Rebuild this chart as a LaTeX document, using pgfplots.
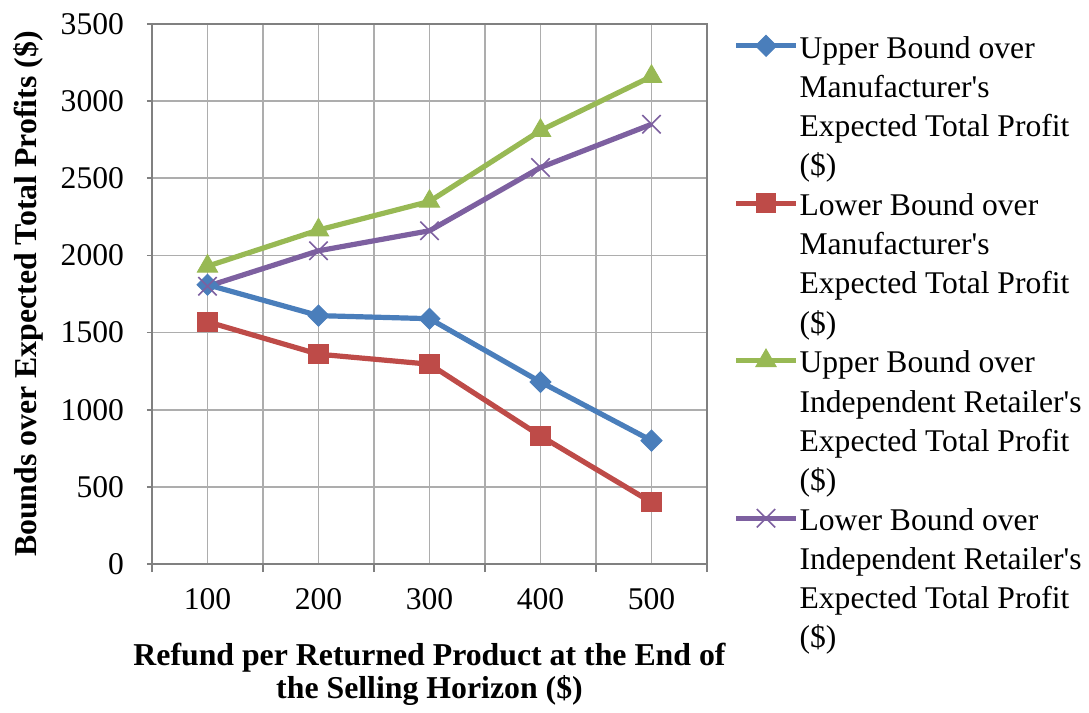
\documentclass[border=0pt]{standalone}
\usepackage{pgfplots}
\pgfplotsset{compat=1.18}
\usepackage{fontspec}
\setmainfont{Liberation Serif}
\definecolor{cblue}{HTML}{4A7EBB}
\definecolor{cred}{HTML}{BE4B48}
\definecolor{cgreen}{HTML}{98B954}
\definecolor{cpurple}{HTML}{7D60A0}
\newcommand\lentry[1]{\begin{tabular}[t]{@{}l@{}}#1\end{tabular}}
\newcommand\q{\textquotesingle}
\begin{document}
\begin{tikzpicture}
\begin{axis}[name=ax,
  width=277.5pt, height=270pt, scale only axis,
  xmin=0.5, xmax=5.5, ymin=0, ymax=3500,
  xtick={1,2,3,4,5}, xticklabels={100,200,300,400,500},
  minor xtick={0.5,1.5,2.5,3.5,4.5,5.5},
  ytick={0,500,...,3500},
  xmajorgrids, xminorgrids, ymajorgrids,
  major grid style={draw=black!32, line width=0.8pt},
  minor grid style={draw=black!32, line width=0.8pt},
  axis line style={draw=black!50, line width=0.9pt},
  tick align=outside, xtick pos=bottom, ytick pos=left,
  major x tick style={draw=none},
  minor x tick style={draw=black!50, line width=0.9pt},
  minor tick length=4pt, major tick length=2.5pt,
  y tick style={draw=black!50, line width=0.9pt},
  tick label style={font=\fontsize{15.8}{18}\selectfont},
  /pgf/number format/1000 sep={},
  /pgf/number format/assume math mode=true,
  yticklabel style={xshift=-8pt},
  xticklabel style={yshift=-6pt},
  label style={font=\bfseries\fontsize{15.9}{16.6}\selectfont},
  xlabel={Refund per Returned Product at the End of\\the Selling Horizon (\$)},
  xlabel style={align=center, yshift=-10pt},
  ylabel={Bounds over Expected Total Profits (\$)},
  ylabel style={yshift=2pt},
  legend style={at={(1,1)}, anchor=north west, xshift=13pt, yshift=-2.6pt,
    draw=none, fill=none, font=\fontsize{15.8}{19.6}\selectfont,
    row sep=62.5pt, column sep=0pt, inner sep=0pt,
    nodes={inner sep=0.5pt}},
  legend cell align=left,
  legend image code/.code={\draw[mark repeat=2,mark phase=2] plot coordinates {(0pt,0pt)(15pt,0pt)(30pt,0pt)};},
  every axis plot/.append style={line width=2.6pt},
]
\addplot[cblue, mark=square*, mark size=3.7pt, mark options={rotate=45, line width=0.5pt}]
  coordinates {(1,1810)(2,1610)(3,1590)(4,1180)(5,800)};
\addlegendentry{\lentry{Upper Bound over\\Manufacturer\q s\\Expected Total Profit\\(\$)}}
\addplot[cred, mark=square*, mark size=4.8pt, mark options={line width=0.5pt}]
  coordinates {(1,1570)(2,1360)(3,1295)(4,830)(5,400)};
\addlegendentry{\lentry{Lower Bound over\\Manufacturer\q s\\Expected Total Profit\\(\$)}}
\addplot[cgreen, mark=triangle*, mark size=5.8pt, mark options={line width=0.5pt}]
  coordinates {(1,1930)(2,2165)(3,2350)(4,2810)(5,3160)};
\addlegendentry{\lentry{Upper Bound over\\Independent Retailer\q s\\Expected Total Profit\\(\$)}}
\addplot[cpurple, mark=x, mark size=6.5pt, mark options={line width=0.8pt}]
  coordinates {(1,1800)(2,2030)(3,2160)(4,2570)(5,2850)};
\addlegendentry{\lentry{Lower Bound over\\Independent Retailer\q s\\Expected Total Profit\\(\$)}}
\end{axis}
\path ([shift={(-76pt,-72.5pt)}]ax.south west) rectangle ([shift={(191pt,12pt)}]ax.north east);
\end{tikzpicture}
\end{document}
